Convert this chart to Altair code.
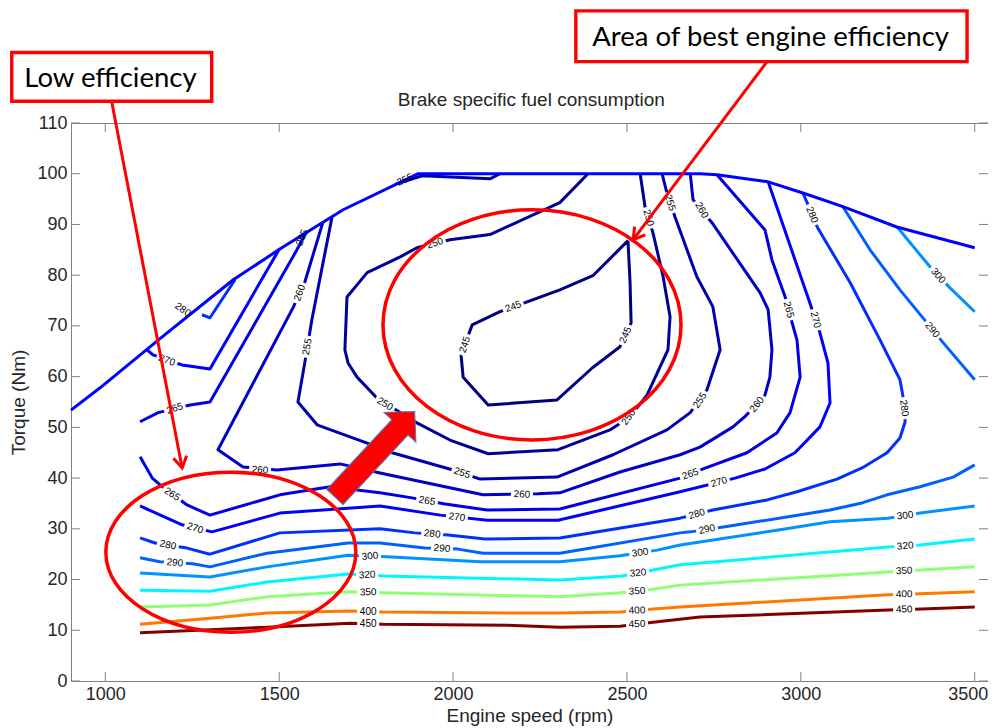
import altair as alt
import pandas as pd

# ---------------- axes ----------------
X_DOMAIN = [901.4, 3538.2]
Y_DOMAIN = [0, 110]
X_TICKS = [1000, 1500, 2000, 2500, 3000, 3500]
Y_TICKS = [0, 10, 20, 30, 40, 50, 60, 70, 80, 90, 100, 110]
TITLE = "Brake specific fuel consumption"

# ---------------- contour levels / colours (jet) ----------------
LEVELS = [245, 250, 255, 260, 265, 270, 280, 290, 300, 320, 350, 400, 450]
LEVEL_COLORS = ["#000080", "#000098", "#0000b1", "#0000ca", "#0000e3", "#0000fc",
                "#002fff", "#0060ff", "#0092ff", "#00f6ff", "#8cff73", "#ff7900", "#800000"]

# ---------------- full-load curve ----------------
BOUND_RPM = [901.4, 985, 1152, 1368, 1503, 1684, 1900, 2710, 2759, 2906, 3006, 3121, 3276, 3500]
BOUND_NM = [53.4, 57.8, 67.2, 79.1, 85.2, 92.9, 100.0, 100.0, 99.8, 98.4, 96.2, 93.5, 89.5, 85.4]

# ---------------- contour pieces (rpm, Nm) ----------------
C245_RPM = [2503, 2402, 2307, 2135, 2055, 2023, 2029, 2101, 2299, 2400, 2480, 2512, 2509, 2503]
C245_NM = [86.8, 79.9, 77.1, 72.8, 70.2, 64.3, 59.9, 54.4, 55.4, 61.7, 65.9, 70.6, 78.5, 86.8]

C250_RPM = [2388, 2307, 2106, 1991, 1896, 1848, 1753, 1695, 1689, 1698, 1724, 1781, 1896, 1991,
            2101, 2302, 2451, 2509, 2558, 2618, 2624, 2604, 2575, 2552, 2538]
C250_NM = [100.0, 94.3, 88.0, 87.0, 85.4, 83.6, 80.5, 75.7, 65.3, 62.7, 59.9, 55.8, 50.9, 47.5,
           44.8, 45.6, 49.5, 52.1, 56.4, 65.3, 71.8, 79.7, 88.3, 93.5, 100.0]

C255_RPM = [1652, 1594, 1574, 1554, 1609, 1753, 1825, 2000, 2078, 2299, 2460, 2615, 2682, 2730,
            2768, 2747, 2701, 2638, 2615, 2601]
C255_NM = [91.5, 71.2, 62.9, 55.0, 50.5, 46.9, 45.0, 41.6, 39.8, 40.2, 44.6, 49.5, 52.9, 57.4,
           65.3, 73.8, 79.7, 91.5, 96.2, 100.0]
C255B_RPM = [1833, 1911, 2106, 2135]
C255B_NM = [97.9, 99.6, 99.0, 100.0]

C260_RPM = [1626, 1574, 1540, 1324, 1396, 1494, 1675, 1790, 2086, 2244, 2307, 2480, 2653, 2710,
            2805, 2839, 2897, 2911, 2917, 2906, 2883, 2745, 2690, 2682]
C260_NM = [90.5, 78.7, 73.6, 45.6, 42.2, 41.6, 42.8, 41.0, 36.7, 36.9, 37.1, 41.2, 44.6, 46.1,
           50.1, 52.1, 56.4, 59.9, 65.3, 73.2, 76.5, 90.3, 94.9, 100.0]

C265A_RPM = [1100, 1152, 1244, 1301, 1551, 1580]
C265A_NM = [51.1, 52.9, 54.4, 55.0, 85.0, 88.7]
C265B_RPM = [1100, 1135, 1157, 1235, 1301, 1502, 1646, 1790, 1882, 1977, 2098, 2307, 2653, 2719,
             2845, 2931, 2969, 2998, 2989, 2975, 2955, 2917, 2897, 2759]
C265B_NM = [44.2, 40.0, 38.7, 34.7, 32.7, 36.7, 38.3, 37.1, 36.1, 34.9, 33.7, 33.9, 40.0, 41.8,
            45.0, 48.9, 52.9, 59.9, 67.2, 70.6, 75.7, 83.0, 88.9, 99.8]

C270A_RPM = [1120, 1137, 1221, 1301, 1500]
C270A_NM = [65.3, 64.3, 62.3, 61.5, 85.1]
C270B_RPM = [1100, 1221, 1307, 1502, 1790, 1963, 2098, 2302, 2653, 2811, 2897, 2983, 3055, 3084,
             3078, 3055, 3026, 2906]
C270B_NM = [34.5, 30.8, 29.4, 33.1, 34.5, 32.7, 31.7, 31.7, 37.3, 40.0, 41.8, 45.0, 50.1, 54.8,
            62.7, 68.6, 74.5, 98.4]

C280A_RPM = [1373, 1301, 1278]
C280A_NM = [79.1, 71.6, 72.2]
C280B_RPM = [1100, 1143, 1235, 1301, 1502, 1790, 1890, 1986, 2092, 2307, 2653, 2747, 2903, 2989,
             3104, 3176, 3248, 3285, 3300, 3294, 3285, 3228, 3142, 3047, 3018, 3006]
C280B_NM = [28.2, 27.2, 26.2, 25.0, 29.2, 30.0, 29.2, 28.8, 28.0, 28.2, 32.1, 33.7, 35.7, 37.3,
            39.8, 42.0, 45.0, 47.9, 51.1, 56.0, 59.4, 67.2, 78.5, 89.5, 94.3, 96.2]

C290A_RPM = [1100, 1157, 1252, 1301, 1465, 1698, 1790, 1919, 2014, 2086, 2307, 2653, 2682, 2782,
             3084, 3176, 3248, 3343, 3438, 3500]
C290A_NM = [24.3, 23.5, 23.1, 22.5, 25.2, 27.2, 27.2, 26.2, 26.0, 25.2, 25.2, 29.2, 29.4, 30.4,
            33.7, 35.1, 36.7, 38.3, 40.2, 42.6]
C290B_RPM = [3121, 3199, 3285, 3363, 3409, 3500]
C290B_NM = [93.5, 85.0, 77.1, 70.6, 66.7, 59.4]

C300A_RPM = [1100, 1301, 1465, 1698, 1810, 2078, 2307, 2480, 2587, 2653, 2940, 3084, 3251, 3343, 3500]
C300A_NM = [21.3, 20.5, 22.5, 24.8, 24.5, 23.5, 23.5, 24.7, 25.8, 26.8, 29.8, 31.4, 32.1, 33.1, 34.5]
C300B_RPM = [3277, 3372, 3429, 3500]
C300B_NM = [89.5, 81.6, 77.5, 72.8]

C320_RPM = [1100, 1301, 1465, 1698, 1804, 2307, 2486, 2575, 2653, 3251, 3343, 3500]
C320_NM = [17.9, 17.7, 19.5, 21.1, 20.7, 19.9, 20.7, 21.9, 22.9, 26.4, 26.8, 28.0]

C350_RPM = [1100, 1301, 1465, 1698, 1799, 2307, 2480, 2575, 2653, 3251, 3343, 3500]
C350_NM = [14.6, 15.0, 16.6, 17.6, 17.4, 16.6, 17.4, 18.1, 18.9, 21.5, 21.9, 22.5]

C400_RPM = [1100, 1310, 1465, 1704, 1799, 2155, 2307, 2480, 2575, 2653, 3251, 3343, 3500]
C400_NM = [11.2, 12.4, 13.4, 13.8, 13.6, 13.4, 13.4, 13.6, 14.2, 14.6, 17.0, 17.2, 17.6]

C450_RPM = [1100, 1465, 1704, 1799, 2155, 2307, 2480, 2575, 2710, 3251, 3349, 3500]
C450_NM = [9.5, 10.6, 11.4, 11.2, 11.0, 10.6, 10.8, 11.6, 12.6, 14.0, 14.2, 14.6]

PIECES = [
    ("c245", 245, C245_RPM, C245_NM), ("c250", 250, C250_RPM, C250_NM),
    ("c255", 255, C255_RPM, C255_NM), ("c255b", 255, C255B_RPM, C255B_NM),
    ("c260", 260, C260_RPM, C260_NM),
    ("c265a", 265, C265A_RPM, C265A_NM), ("c265b", 265, C265B_RPM, C265B_NM),
    ("c270a", 270, C270A_RPM, C270A_NM), ("c270b", 270, C270B_RPM, C270B_NM),
    ("c280a", 280, C280A_RPM, C280A_NM), ("c280b", 280, C280B_RPM, C280B_NM),
    ("c290a", 290, C290A_RPM, C290A_NM), ("c290b", 290, C290B_RPM, C290B_NM),
    ("c300a", 300, C300A_RPM, C300A_NM), ("c300b", 300, C300B_RPM, C300B_NM),
    ("c320", 320, C320_RPM, C320_NM), ("c350", 350, C350_RPM, C350_NM),
    ("c400", 400, C400_RPM, C400_NM), ("c450", 450, C450_RPM, C450_NM),
]

# ---------------- contour labels ----------------
LABEL_TEXT = ["245", "245", "245", "250", "250", "250", "250", "255", "255", "255", "255", "255",
              "260", "260", "260", "260", "260", "265", "265", "265", "265", "265", "265",
              "270", "270", "270", "270", "270", "280", "280", "280", "280", "280", "280",
              "290", "290", "290", "290", "300", "300", "300", "300", "320", "320", "320",
              "350", "350", "350", "400", "400", "400", "450", "450", "450"]
LABEL_RPM = [2173, 2034, 2496, 1948, 1804, 2505, 2562, 1581, 2026, 2710, 2624, 1862,
             1559, 1445, 2198, 2874, 2715, 1200, 1566, 1192, 1925, 2682, 2965,
             1177, 1258, 2011, 2765, 3042, 1223, 1180, 1940, 2701, 3297, 3032,
             1200, 1968, 2730, 3378, 1761, 2538, 3300, 3395, 1753, 2532, 3300,
             1756, 2529, 3297, 1756, 2529, 3297, 1756, 2529, 3297]
LABEL_NM = [73.8, 66.3, 68.2, 86.3, 54.6, 52.0, 91.3, 65.9, 41.0, 55.3, 94.3, 98.8,
            76.5, 41.6, 36.8, 54.5, 92.8, 53.7, 87.4, 36.8, 35.5, 40.8, 73.2,
            63.2, 30.1, 32.3, 39.2, 71.2, 73.2, 26.8, 29.0, 32.9, 53.8, 91.9,
            23.3, 26.1, 29.9, 69.2, 24.6, 25.3, 32.6, 79.9, 20.9, 21.3, 26.6,
            17.5, 17.7, 21.7, 13.7, 13.9, 17.1, 11.3, 11.2, 14.1]
LABEL_ANGLE = [340, 288, 293, 342, 32, 305, 73, 280, 18, 303, 72, 335,
               290, 4, 3, 308, 60, 340, 292, 33, 10, 340, 75,
               20, 18, 8, 344, 75, 35, 12, 6, 344, 82, 68,
               6, 5, 348, 52, 355, 352, 353, 50, 357, 355, 355,
               358, 357, 357, 0, 358, 358, 0, 358, 358]
LABEL_GAP = [1, 1, 1, 1, 1, 1, 1, 1, 1, 1, 1, 0,
             1, 1, 1, 1, 1, 1, 0, 1, 1, 1, 1,
             1, 1, 1, 1, 1, 0, 1, 1, 1, 1, 1,
             1, 1, 1, 1, 1, 1, 1, 1, 1, 1, 1,
             1, 1, 1, 1, 1, 1, 1, 1, 1]

# ---------------- annotations (data coordinates) ----------------
BOX_TEXT = ["Low efficiency", "Area of best engine efficiency"]
BOX_RPM1 = [731, 2353]
BOX_RPM2 = [1306, 3478]
BOX_NM1 = [123.9, 132.1]
BOX_NM2 = [114.3, 122.1]
BOX_TEXT_RPM = [1015, 2913]
BOX_TEXT_NM = [117.1, 125.2]

ARROW_RPM1 = [1019, 2903]
ARROW_NM1 = [114.0, 122.1]
ARROW_RPM2 = [1221, 2518]
ARROW_NM2 = [42.0, 87.0]
ARROW_ANGLE = [79, 127]

ELLIPSE_RPM = [1361, 2227]
ELLIPSE_NM = [25.4, 70.2]

BLOCK_RPM = [1775]
BLOCK_NM = [44.7]

TITLE_RPM = [2225]
TITLE_NM = [113.3]

# ---------------- build tables ----------------
rows = []
for pid, lvl, rr, nn in PIECES:
    for i, (a, b) in enumerate(zip(rr, nn)):
        rows.append({"piece": pid, "lvl": str(lvl), "ord": i, "rpm": a, "nm": b})
contours = pd.DataFrame(rows)
boundary = pd.DataFrame({"rpm": BOUND_RPM, "nm": BOUND_NM, "ord": list(range(len(BOUND_RPM)))})
labels = pd.DataFrame({"text": LABEL_TEXT, "rpm": LABEL_RPM, "nm": LABEL_NM,
                       "angle": LABEL_ANGLE, "gap": LABEL_GAP})
gaps = labels[labels["gap"] == 1]
boxes = pd.DataFrame({"text": BOX_TEXT, "rpm": BOX_RPM1, "rpm2": BOX_RPM2, "nm": BOX_NM1,
                      "nm2": BOX_NM2, "trpm": BOX_TEXT_RPM, "tnm": BOX_TEXT_NM})
arrows = pd.DataFrame({"rpm": ARROW_RPM1, "nm": ARROW_NM1, "rpm2": ARROW_RPM2, "nm2": ARROW_NM2})
heads = pd.DataFrame({"rpm": ARROW_RPM2, "nm": ARROW_NM2, "ang": ARROW_ANGLE})
title_df = pd.DataFrame({"rpm": TITLE_RPM, "nm": TITLE_NM, "text": [TITLE]})

W, H = 917, 558
xs = alt.Scale(domain=X_DOMAIN, nice=False, zero=False)
ys = alt.Scale(domain=Y_DOMAIN, nice=False, zero=False)
xaxis = alt.Axis(values=X_TICKS, title="Engine speed (rpm)", labelPadding=4, titlePadding=3,
                 labelFlush=15, labelFlushOffset=13, format="d")
yaxis = alt.Axis(values=Y_TICKS, title="Torque (Nm)", labelPadding=4, titlePadding=8,
                 labelFlush=False, format="d")


def X(f="rpm"):
    return alt.X(f"{f}:Q", scale=xs, axis=xaxis)


def Y(f="nm"):
    return alt.Y(f"{f}:Q", scale=ys, axis=yaxis)


def ellipse_path(r):
    k = 0.5523
    kr = round(k * r, 4)
    return (f"M1,0C1,{kr} {k},{r} 0,{r}C-{k},{r} -1,{kr} -1,0"
            f"C-1,-{kr} -{k},-{r} 0,-{r}C{k},-{r} 1,-{kr} 1,0Z")


RECT_PATH = "M-1,-0.45L1,-0.45L1,0.45L-1,0.45Z"
HEAD_PATH = "M-1,-0.6L0,0L-1,0.6"
BLOCK_PATH = "M-1,-0.19L0.63,-0.19L0.63,-0.374L1,0L0.63,0.374L0.63,0.19L-1,0.19Z"
FONT = "Liberation Sans"
GRAY = "#808080"

lines = alt.Chart(contours).mark_line(strokeWidth=3, strokeJoin="round", clip=False).encode(
    x=X(), y=Y(),
    color=alt.Color("lvl:N", scale=alt.Scale(domain=[str(v) for v in LEVELS], range=LEVEL_COLORS),
                    legend=None),
    detail="piece:N", order="ord:Q")

bound = alt.Chart(boundary).mark_line(color="#0000ff", strokeWidth=3, strokeJoin="round",
                                      clip=False).encode(x=X(), y=Y(), order="ord:Q")

gap_marks = alt.Chart(gaps).mark_point(shape=RECT_PATH, filled=True, color="white", opacity=1,
                                       size=484, strokeWidth=0, clip=False).encode(
    x=X(), y=Y(), angle=alt.Angle("angle:Q", scale=None))

label_marks = alt.Chart(labels).mark_text(font=FONT, fontSize=10, color="black", align="center",
                                          baseline="middle", clip=False).encode(
    x=X(), y=Y(), text="text:N", angle=alt.Angle("angle:Q", scale=None))

xt = pd.DataFrame({"rpm": X_TICKS})
yt = pd.DataFrame({"nm": Y_TICKS})
tick_b = alt.Chart(xt).mark_rule(color=GRAY, strokeWidth=1).encode(
    x=X(), y=alt.value(H), y2=alt.value(H - 9))
tick_t = alt.Chart(xt).mark_rule(color=GRAY, strokeWidth=1).encode(
    x=X(), y=alt.value(0), y2=alt.value(9))
tick_l = alt.Chart(yt).mark_rule(color=GRAY, strokeWidth=1).encode(
    y=Y(), x=alt.value(0), x2=alt.value(9))
tick_r = alt.Chart(yt).mark_rule(color=GRAY, strokeWidth=1).encode(
    y=Y(), x=alt.value(W), x2=alt.value(W - 9))

ell1 = alt.Chart(pd.DataFrame({"rpm": ELLIPSE_RPM[:1], "nm": ELLIPSE_NM[:1]})).mark_point(
    shape=ellipse_path(0.64), filled=False, color="#ff0000", strokeWidth=3.5, opacity=1,
    size=250 * 250, clip=False).encode(x=X(), y=Y())
ell2 = alt.Chart(pd.DataFrame({"rpm": ELLIPSE_RPM[1:], "nm": ELLIPSE_NM[1:]})).mark_point(
    shape=ellipse_path(0.772), filled=False, color="#ff0000", strokeWidth=3.5, opacity=1,
    size=298 * 298, clip=False).encode(x=X(), y=Y())

arrow_lines = alt.Chart(arrows).mark_rule(color="#ff0000", strokeWidth=3, clip=False).encode(
    x=X(), y=Y(), x2="rpm2:Q", y2="nm2:Q")
arrow_heads = alt.Chart(heads).mark_point(shape=HEAD_PATH, filled=False, color="#ff0000",
                                          strokeWidth=3, opacity=1, size=500, clip=False).encode(
    x=X(), y=Y(), angle=alt.Angle("ang:Q", scale=None))

block = alt.Chart(pd.DataFrame({"rpm": BLOCK_RPM, "nm": BLOCK_NM})).mark_point(
    shape=BLOCK_PATH, filled=True, fill="#ff0000", stroke="#4a7ebb", strokeWidth=1, opacity=1,
    size=117 * 117, angle=313, clip=False).encode(x=X(), y=Y())

box_rects = alt.Chart(boxes).mark_rect(fill="white", stroke="#ff0000", strokeWidth=3.4,
                                       clip=False).encode(x=X(), y=Y(), x2="rpm2:Q", y2="nm2:Q")
box_texts = alt.Chart(boxes).mark_text(font="Lato", fontSize=27.5, color="black", align="center",
                                       baseline="alphabetic", clip=False).encode(
    x=X("trpm"), y=Y("tnm"), text="text:N")

title_mark = alt.Chart(title_df).mark_text(font=FONT, fontSize=19, color="#262626",
                                           align="center", baseline="alphabetic",
                                           clip=False).encode(x=X(), y=Y(), text="text:N")

chart = alt.layer(
    lines, bound, gap_marks, label_marks, tick_b, tick_t, tick_l, tick_r,
    ell1, ell2, arrow_lines, arrow_heads, block, box_rects, box_texts, title_mark
).properties(
    width=W, height=H,
    autosize=alt.AutoSizeParams(type="none"),
    padding={"left": 63, "top": 115, "right": 0, "bottom": 46},
).configure_view(stroke=GRAY, strokeWidth=1).configure_axis(
    labelFont=FONT, labelFontSize=18, labelColor="#262626", titleFont=FONT, titleFontSize=19,
    titleFontWeight="normal", titleColor="#262626", domain=False, ticks=False, grid=False)

chart.save("out.html", embed_options={"renderer": "svg", "actions": False})
